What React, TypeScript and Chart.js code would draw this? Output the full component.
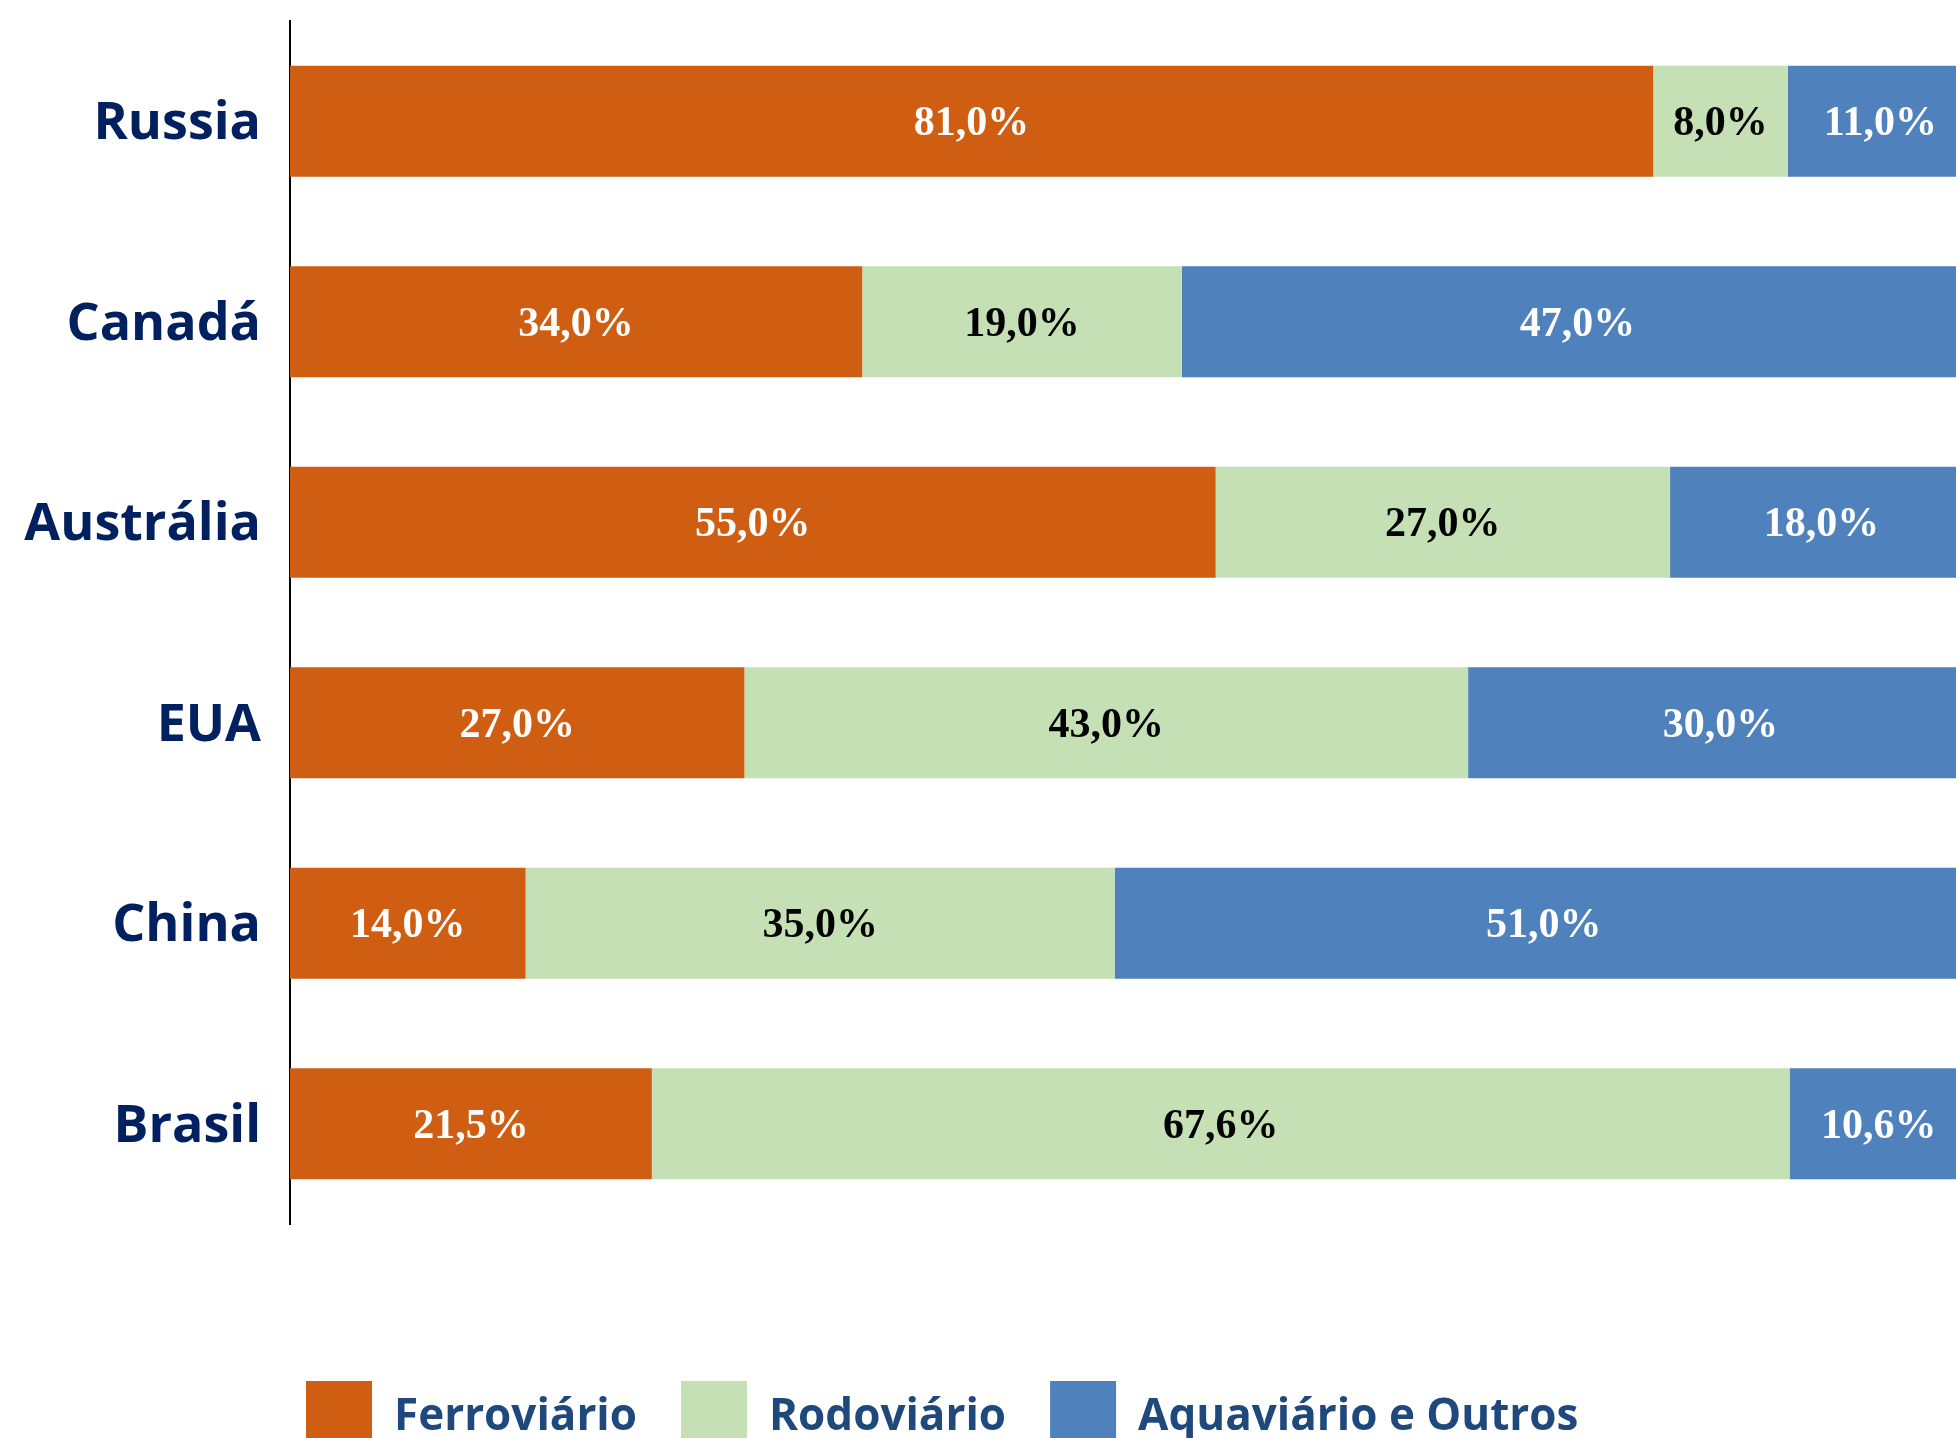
import React, { useEffect, useRef } from "react";
import { Chart, registerables } from "chart.js";

Chart.register(...registerables);

const categories = ["Russia", "Canadá", "Austrália", "EUA", "China", "Brasil"];
const ferroviario = [81.0, 34.0, 55.0, 27.0, 14.0, 21.5];
const rodoviario = [8.0, 19.0, 27.0, 43.0, 35.0, 67.6];
const aquaviario = [11.0, 47.0, 18.0, 30.0, 51.0, 10.6];
const seriesNames = ["Ferroviário", "Rodoviário", "Aquaviário e Outros"];
const seriesColors = ["#CF5E13", "#C5E0B4", "#4F81BD"];
const labelColors = ["#FFFFFF", "#000000", "#FFFFFF"];

const CANVAS_W = 1973;
const CANVAS_H = 1463;

const fmt = (v: number) => v.toFixed(1).replace(".", ",") + "%";

const valueLabels = {
  id: "valueLabels",
  afterDatasetsDraw(chart: any) {
    const ctx = chart.ctx;
    ctx.save();
    ctx.font = "bold 42px 'Liberation Serif', 'Times New Roman', serif";
    ctx.textAlign = "center";
    ctx.textBaseline = "alphabetic";
    chart.data.datasets.forEach((ds: any, di: number) => {
      const meta = chart.getDatasetMeta(di);
      meta.data.forEach((el: any, i: number) => {
        const v = ds.data[i];
        const p = el.getProps(["x", "y", "base"], true);
        ctx.fillStyle = labelColors[di];
        ctx.fillText(fmt(v), (p.x + p.base) / 2, p.y + 14);
      });
    });
    ctx.restore();
  },
};

const legendShift = {
  id: "legendShift",
  afterLayout(chart: any) {
    if (chart.legend) {
      chart.legend.left = 262;
    }
  },
};

export default function App() {
  const ref = useRef<HTMLCanvasElement | null>(null);

  useEffect(() => {
    if (!ref.current) return;
    const data = [ferroviario, rodoviario, aquaviario];
    const chart = new Chart(ref.current, {
      type: "bar",
      data: {
        labels: categories,
        datasets: data.map((d, i) => ({
          label: seriesNames[i],
          data: d,
          backgroundColor: seriesColors[i],
          borderWidth: 0,
          categoryPercentage: 1,
          barPercentage: 0.553,
        })),
      },
      options: {
        indexAxis: "y",
        responsive: false,
        animation: false,
        devicePixelRatio: 1,
        layout: { padding: { left: 0, top: 21, right: 0, bottom: 0 } },
        plugins: {
          tooltip: { enabled: false },
          legend: {
            position: "bottom",
            align: "start",
            labels: {
              boxWidth: 66,
              boxHeight: 72,
              padding: 44,
              color: "#1F497D",
              font: { family: "'Open Sans', sans-serif", size: 44, weight: "bold" },
            },
          },
        },
        scales: {
          x: {
            stacked: true,
            min: 0,
            max: 100,
            display: true,
            grid: { display: false, drawTicks: false },
            border: { display: false },
            ticks: { display: false },
            afterFit: (s: any) => {
              s.height = 113;
              s.paddingLeft = 0;
              s.paddingRight = 0;
            },
          },
          y: {
            stacked: true,
            grid: { display: false, drawTicks: false },
            border: { display: true, color: "#000000", width: 2 },
            ticks: {
              padding: 29,
              labelOffset: 3,
              color: "#002060",
              font: { family: "'Open Sans', sans-serif", size: 52, weight: "bold" },
            },
            afterFit: (s: any) => {
              s.width = 290;
              s.paddingTop = 0;
              s.paddingBottom = 0;
            },
          },
        },
      },
      plugins: [valueLabels, legendShift],
    } as any);
    return () => chart.destroy();
  }, []);

  return (
    <div
      style={{
        position: "fixed",
        left: 0,
        top: 0,
        width: 1956,
        height: 1438,
        overflow: "hidden",
        background: "#FFFFFF",
      }}
    >
      <canvas
        ref={ref}
        width={CANVAS_W}
        height={CANVAS_H}
        style={{ display: "block", width: CANVAS_W, height: CANVAS_H }}
      />
    </div>
  );
}
